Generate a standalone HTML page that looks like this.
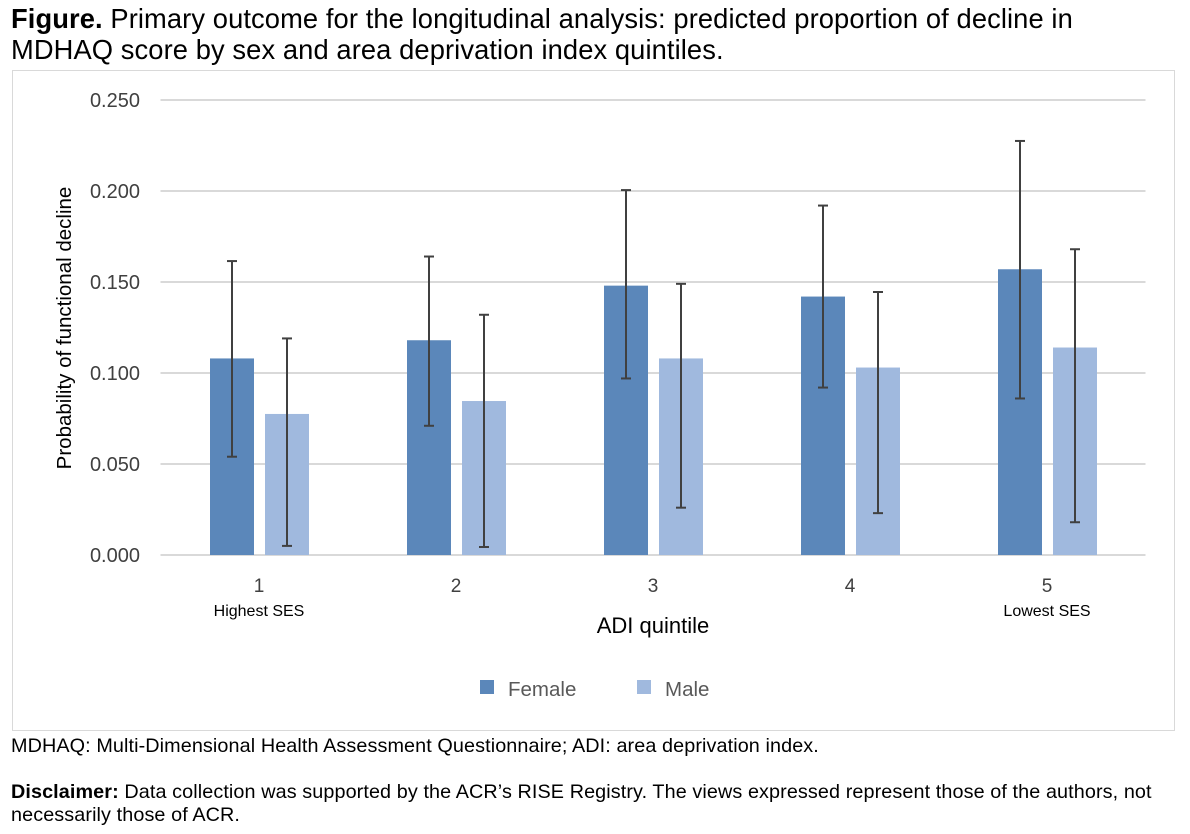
<!DOCTYPE html>
<html><head><meta charset="utf-8"><style>
body{margin:0;background:#fff;width:1190px;height:834px;overflow:hidden;font-family:"Liberation Sans",Arial,sans-serif;}
.t{position:absolute;color:#000;white-space:nowrap;}
</style></head><body>
<div class="t" style="left:11px;top:3px;font-size:27.3px;line-height:31px;letter-spacing:0.1px;"><b>Figure.</b> Primary outcome for the longitudinal analysis: predicted proportion of decline in<br>MDHAQ score by sex and area deprivation index quintiles.</div>
<svg id="chart" style="position:absolute;left:0;top:0" width="1190" height="834"></svg>
<div class="t" style="left:11px;top:735px;font-size:19.8px;letter-spacing:0.1px;">MDHAQ: Multi-Dimensional Health Assessment Questionnaire; ADI: area deprivation index.</div>
<div class="t" style="left:11px;top:781px;font-size:19.8px;line-height:23px;letter-spacing:0.1px;"><b>Disclaimer:</b> Data collection was supported by the ACR’s RISE Registry. The views expressed represent those of the authors, not<br>necessarily those of ACR.</div>
<script>
const categories=["1","2","3","4","5"];
const subLabels=["Highest SES","","","","Lowest SES"];
const female=[0.108,0.118,0.148,0.142,0.157];
const femaleHi=[0.1615,0.164,0.2005,0.192,0.2275];
const femaleLo=[0.054,0.071,0.097,0.092,0.086];
const male=[0.0775,0.0846,0.108,0.103,0.114];
const maleHi=[0.119,0.132,0.149,0.1445,0.168];
const maleLo=[0.005,0.0044,0.026,0.023,0.018];
const ticks=[0,0.05,0.1,0.15,0.2,0.25];
const tickLabels=["0.000","0.050","0.100","0.150","0.200","0.250"];
const svg=document.getElementById('chart');
const NS='http://www.w3.org/2000/svg';
function mk(tag,a,p){const e=document.createElementNS(NS,tag);for(const k in a)e.setAttribute(k,a[k]);(p||svg).appendChild(e);return e;}
const y0=555,yTop=100,x0=160.5,gw=197;
const Y=v=>y0-(v/0.25)*(y0-yTop);
const X=i=>x0+gw*(i+0.5);
let r=mk('rect',{x:12.5,y:70.5,width:1162,height:660,fill:'none',stroke:'#d9d9d9'});

ticks.forEach((t,i)=>{
 let l=mk('line',{x1:x0,x2:x0+gw*5,y1:Y(t),y2:Y(t),stroke:'#d9d9d9','stroke-width':2});
 
 let tx=mk('text',{x:140,y:Y(t)+7,'text-anchor':'end','font-size':20,fill:'#404040','font-family':'Liberation Sans'});
 tx.textContent=tickLabels[i];
 
});
function bar(cx,v,hi,lo,col,name){
 let b=mk('rect',{x:cx-22,y:Y(v),width:44,height:y0-Y(v),fill:col});
 
 let g=mk('g',{stroke:'#404040','stroke-width':2});
 
 mk('line',{x1:cx,x2:cx,y1:Y(hi),y2:Y(lo)},g);
 mk('line',{x1:cx-5,x2:cx+5,y1:Y(hi),y2:Y(hi)},g);
 mk('line',{x1:cx-5,x2:cx+5,y1:Y(lo),y2:Y(lo)},g);
}
categories.forEach((c,i)=>{
 const cx=X(i);
 bar(cx-27,female[i],femaleHi[i],femaleLo[i],'#5b87ba','bar-female-'+c);
 bar(cx+28,male[i],maleHi[i],maleLo[i],'#a0b9de','bar-male-'+c);
 let t=mk('text',{x:cx,y:592,'text-anchor':'middle','font-size':19,fill:'#404040','font-family':'Liberation Sans'});
 t.textContent=c;
 if(subLabels[i]){let s=mk('text',{x:cx,y:616,'text-anchor':'middle','font-size':16,fill:'#000','font-family':'Liberation Sans'});
 s.textContent=subLabels[i];}
});
let xt=mk('text',{x:653,y:633,'text-anchor':'middle','font-size':22,fill:'#000','font-family':'Liberation Sans'});
xt.textContent='ADI quintile';
let yt=mk('text',{x:0,y:0,'text-anchor':'middle','font-size':20.5,fill:'#000','font-family':'Liberation Sans',transform:'translate(71,328) rotate(-90)'});
yt.textContent='Probability of functional decline';
[['Female','#5b87ba',480],['Male','#a0b9de',637]].forEach(([n,c,x])=>{
 let g=mk('g',{});
 mk('rect',{x:x,y:680,width:14,height:14,fill:c},g);
 let t=mk('text',{x:x+28,y:696,'font-size':20.5,fill:'#595959','font-family':'Liberation Sans'},g);t.textContent=n;
});
</script>
</body></html>
